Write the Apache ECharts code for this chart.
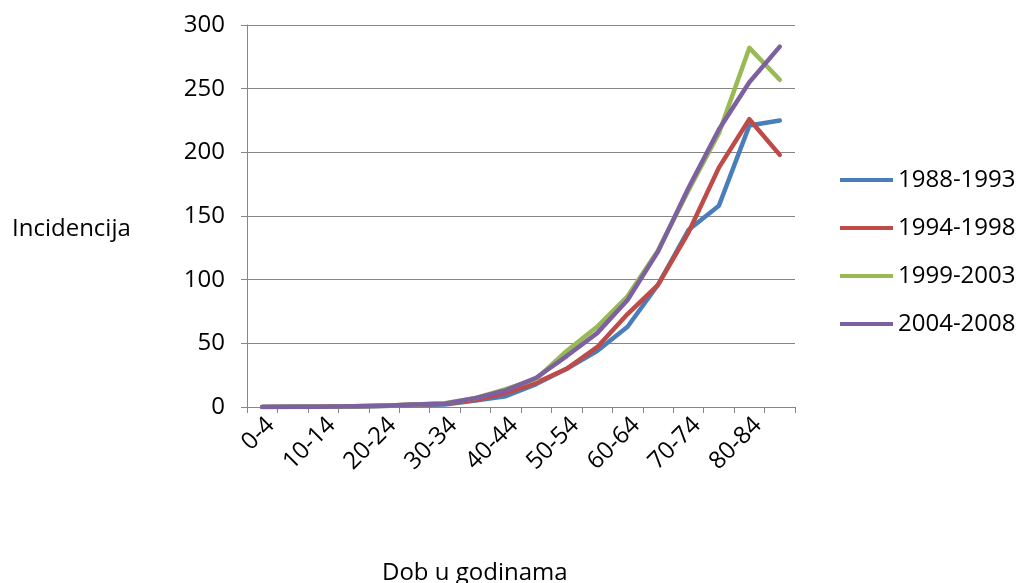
<!DOCTYPE html>
<html>
<head>
<meta charset="utf-8">
<title>Incidencija po dobnim skupinama</title>
<script src="https://cdn.jsdelivr.net/npm/echarts@6/dist/echarts.min.js"></script>
<style>
  html, body { margin: 0; padding: 0; background: #fff; }
  #chart { width: 1020px; height: 583px; }
</style>
</head>
<body>
<div id="chart"></div>
<script>
// Age groups (years)
const ageGroups = ['0-4', '5-9', '10-14', '15-19', '20-24', '25-29', '30-34', '35-39', '40-44',
  '45-49', '50-54', '55-59', '60-64', '65-69', '70-74', '75-79', '80-84', '85+'];

// Incidence per period
const p1988_1993 = [0, 0.1, 0.2, 0.4, 0.8, 1.5, 2, 5, 8.5, 18, 30, 44, 63, 96, 139, 158, 221, 225];
const p1994_1998 = [0, 0, 0.2, 0.5, 1, 2, 2.5, 5.5, 11, 19, 30, 47, 73, 96, 137, 188, 226, 198];
const p1999_2003 = [0, 0.1, 0.2, 0.6, 1, 2, 3, 7, 14, 22, 44, 63, 87, 123, 170, 215, 282, 257];
const p2004_2008 = [0, 0.1, 0.2, 0.5, 1, 2, 2.5, 7, 13, 23, 40, 58, 84, 122, 172, 218, 255, 283];

const periodNames = ['1988-1993', '1994-1998', '1999-2003', '2004-2008'];
const periodValues = [p1988_1993, p1994_1998, p1999_2003, p2004_2008];
const periodColors = ['#4A7EBB', '#BE4B48', '#98B954', '#7D60A0'];

// Value axis ticks
const yMin = 0, yMax = 300, yStep = 50;

// Axis titles
const xTitle = 'Dob u godinama';
const yTitle = 'Incidencija';

const FONT = '"Open Sans", "DejaVu Sans", sans-serif';
const FONT_SIZE = 24;
const AXIS_GREY = '#868686';

const chart = echarts.init(document.getElementById('chart'), null, { renderer: 'canvas' });

chart.setOption({
  animation: false,
  backgroundColor: '#fff',
  textStyle: { fontFamily: FONT, color: '#000' },
  grid: { left: 247, right: 225, top: 25, bottom: 176, containLabel: false, outerBoundsMode: 'none' },
  legend: {
    orient: 'vertical',
    left: 835,
    top: 163,
    padding: 5,
    icon: 'rect',
    itemWidth: 53,
    itemHeight: 4,
    itemGap: 24,
    textStyle: { fontFamily: FONT, fontSize: FONT_SIZE, lineHeight: 24, color: '#000' },
    data: periodNames
  },
  graphic: [
    {
      type: 'text',
      left: 12,
      top: 217,
      style: { text: yTitle, font: FONT_SIZE + 'px ' + FONT, fill: '#000' }
    },
    {
      type: 'text',
      left: 382,
      top: 561,
      style: { text: xTitle, font: FONT_SIZE + 'px ' + FONT, fill: '#000' }
    }
  ],
  xAxis: {
    type: 'category',
    data: ageGroups,
    boundaryGap: true,
    axisLine: { show: true, lineStyle: { color: AXIS_GREY, width: 1 } },
    axisTick: { show: true, interval: 0, length: 6, lineStyle: { color: AXIS_GREY } },
    axisLabel: {
      interval: 1, rotate: 45, margin: 6, verticalAlign: 'top',
      fontFamily: FONT, fontSize: FONT_SIZE, color: '#000'
    },
    splitLine: { show: false }
  },
  yAxis: {
    type: 'value',
    min: yMin,
    max: yMax,
    interval: yStep,
    axisLine: { show: true, lineStyle: { color: AXIS_GREY, width: 1 } },
    axisTick: { show: true, length: 6, lineStyle: { color: AXIS_GREY } },
    axisLabel: { margin: 22, fontFamily: FONT, fontSize: FONT_SIZE, color: '#000' },
    splitLine: { show: true, lineStyle: { color: AXIS_GREY, width: 1 } }
  },
  series: periodNames.map((name, i) => ({
    name: name,
    type: 'line',
    data: periodValues[i],
    showSymbol: false,
    symbol: 'none',
    smooth: false,
    color: periodColors[i],
    lineStyle: { color: periodColors[i], width: 4.5, cap: 'round', join: 'round' }
  }))
});
</script>
</body>
</html>
